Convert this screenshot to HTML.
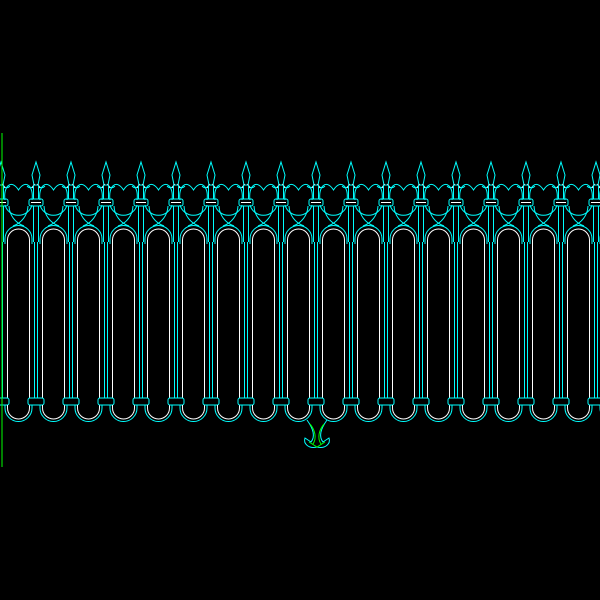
<!DOCTYPE html>
<html><head><style>html,body{margin:0;padding:0;background:#000;width:600px;height:600px;overflow:hidden}</style></head>
<body>
<svg width="600" height="600" viewBox="0 0 600 600" xmlns="http://www.w3.org/2000/svg">
<rect width="600" height="600" fill="#000"/>
<defs>
<g id="u" fill="none" stroke-width="1">
  <!-- spear -->
  <path d="M0,162 L4,175 L2,185 L-2,185 L-4,175 Z" stroke="#0ff"/>
  <path d="M-2,185 Q-5,190 -9,186 M2,185 Q5,190 9,186" stroke="#0ff"/>
  <path d="M-1.5,184 L-4,188 M1.5,184 L4,188" stroke="#fff"/>
  <!-- heart between posts -->
  <path d="M4,200 C2,187 10,178 17.5,190 C25,178 33,187 31,200" stroke="#0ff"/>
  <path d="M31,205 A14,14 0 0 1 4,205" stroke="#0ff"/>
  <!-- interlocking lower arcs -->
  <path d="M8,206 A22,22 0 0 0 23,226 M27,206 A22,22 0 0 1 12,226" stroke="#0ff"/>
  <!-- top collar -->
  <rect x="-7" y="199" width="14" height="7" rx="2" stroke="#0ff"/>
  <line x1="-5" y1="202.5" x2="5" y2="202.5" stroke="#fff"/>
  <!-- posts above collar -->
  <path d="M-2.5,185 V199 M2.5,185 V199 M-2.5,206 V242 M2.5,206 V242" stroke="#0ff"/>
  <!-- upper arch -->
  <path d="M6.5,244 V240 A11,11 0 0 1 28.5,240 V244" stroke="#fff"/>
  <path d="M4,244 V239 A13.5,13.5 0 0 1 31,239 V244" stroke="#0ff"/>
  <!-- post shafts -->
  <path d="M-6.5,244 V398 M6.5,244 V398" stroke="#fff"/>
  <path d="M-1.5,242 V398 M1.5,242 V398" stroke="#0ff"/>
  <!-- bottom collar -->
  <rect x="-8" y="398" width="16" height="7" rx="2" stroke="#0ff"/>
  <!-- bottom U -->
  <path d="M6.5,405 V408 A11,11 0 0 0 28.5,408 V405" stroke="#fff"/>
  <path d="M4,405 V408 A13.5,13.5 0 0 0 31,408 V405" stroke="#0ff"/>
</g>
</defs>
<use href="#u" x="1"/><use href="#u" x="36"/><use href="#u" x="71"/><use href="#u" x="106"/>
<use href="#u" x="141"/><use href="#u" x="176"/><use href="#u" x="211"/><use href="#u" x="246"/>
<use href="#u" x="281"/><use href="#u" x="316"/><use href="#u" x="351"/><use href="#u" x="386"/>
<use href="#u" x="421"/><use href="#u" x="456"/><use href="#u" x="491"/><use href="#u" x="526"/>
<use href="#u" x="561"/><use href="#u" x="596"/>
<!-- center ornament -->
<g fill="none" stroke-width="1">
  <path d="M307,420 C312,427 316,436 311,442 L305,438 C303,444 309,449 317,447 C325,449 331,444 329,438 L323,442 C318,436 322,427 327,420" stroke="#0ff"/>
  <path d="M310,424 C315,430 317,438 313,444 M324,424 C319,430 317,438 321,444 M309,442 L317,447 L325,442" stroke="#0f0"/>
</g>
<line x1="2" y1="133" x2="2" y2="467" stroke="#0f0" stroke-width="1"/>
</svg>
</body></html>
